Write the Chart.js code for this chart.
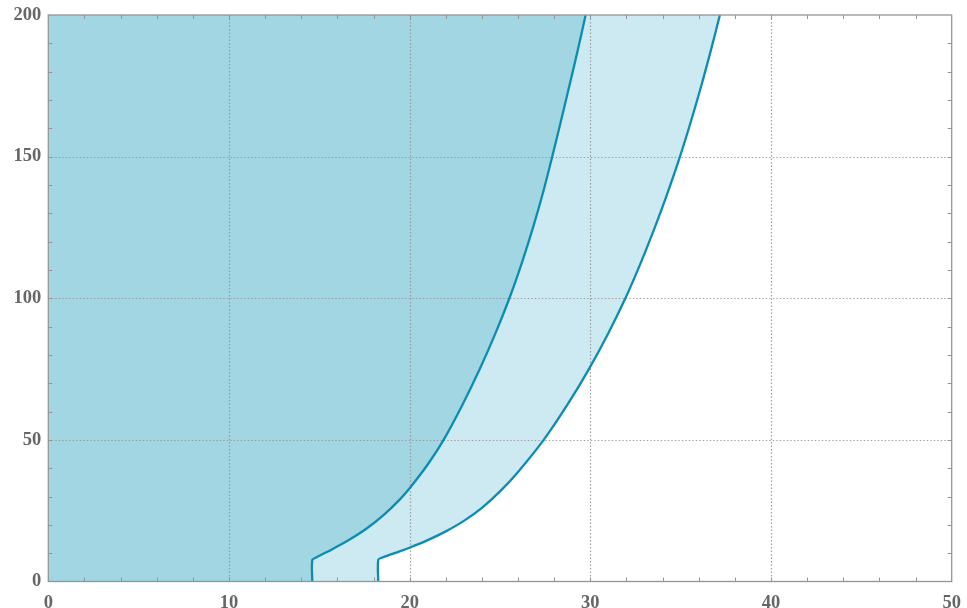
<!DOCTYPE html>
<html><head><meta charset="utf-8">
<script src="https://cdn.jsdelivr.net/npm/chart.js@4/dist/chart.umd.min.js"></script>
<style>html,body{margin:0;padding:0;background:#fff}#wrap{width:967px;height:608px;position:relative}</style>
</head><body><div id="wrap"><canvas id="c"></canvas></div>
<script>
// Inner curve (darker region to its left)
const innerX = [14.61, 14.61, 14.8, 15.77, 16.7, 17.62, 18.6, 19.46, 20.02, 21.0, 21.88, 22.93, 23.88, 24.74, 25.52, 26.21, 26.83, 27.39, 27.89, 28.37, 28.84, 29.3, 29.74];
const innerY = [0, 7.6, 8.4, 11.6, 14.9, 18.7, 23.7, 29.0, 33.1, 41.3, 50, 62.5, 75, 87.5, 100, 112.5, 125, 137.5, 150, 162.5, 175, 187.5, 200];
// Outer curve (lighter band between the curves)
const outerX = [18.26, 18.26, 18.45, 19.2, 20.02, 21.0, 22.0, 23.0, 24.0, 25.0, 26.0, 27.42, 28.74, 29.92, 30.98, 31.94, 32.79, 33.57, 34.29, 34.96, 35.57, 36.14, 36.67, 37.17];
const outerY = [0, 7.6, 8.4, 10.1, 12.0, 14.6, 17.7, 21.4, 26.0, 31.8, 38.7, 50, 62.5, 75, 87.5, 100, 112.5, 125, 137.5, 150, 162.5, 175, 187.5, 200];
const xTicks = [0, 10, 20, 30, 40, 50];
const yTicks = [0, 50, 100, 150, 200];
const xMinorStep = 2;
const yMinorStep = 10;

const LINE = '#0a8db1';
const DARK = '#a3d6e3';
const LIGHT = '#cde9f1';
const GREY = '#959595';

const curve = (xs, ys) => xs.map((v, i) => ({x: v, y: ys[i]}));
// region: same curve, closed along the x axis from the left edge
const region = (xs, ys) => [{x: xTicks[0], y: yTicks[0]}].concat(curve(xs, ys));

const framePlugin = {
  id: 'frame',
  beforeDatasetsDraw(chart) {
    const {ctx, chartArea: a, scales: {x, y}} = chart;
    ctx.save();
    ctx.strokeStyle = 'rgba(150,150,150,0.9)';
    ctx.lineWidth = 1.2;
    ctx.setLineDash([1.4, 2.1]);
    xTicks.forEach(v => {
      if (v === x.min || v === x.max) return;
      const px = Math.round(x.getPixelForValue(v)) + 0.5;
      ctx.beginPath(); ctx.moveTo(px, a.top); ctx.lineTo(px, a.bottom); ctx.stroke();
    });
    yTicks.forEach(v => {
      if (v === y.min || v === y.max) return;
      const py = Math.round(y.getPixelForValue(v)) + 0.5;
      ctx.beginPath(); ctx.moveTo(a.left, py); ctx.lineTo(a.right, py); ctx.stroke();
    });
    ctx.restore();
  },
  afterDatasetsDraw(chart) {
    const {ctx, chartArea: a, scales: {x, y}} = chart;
    ctx.save();
    ctx.strokeStyle = GREY;
    ctx.lineWidth = 1.3;
    ctx.strokeRect(a.left, a.top, a.right - a.left, a.bottom - a.top);
    ctx.lineWidth = 1;
    const L = 4;
    for (let v = x.min + xMinorStep; v < x.max; v += xMinorStep) {
      const px = Math.round(x.getPixelForValue(v)) + 0.5;
      ctx.beginPath();
      ctx.moveTo(px, a.top); ctx.lineTo(px, a.top + L);
      ctx.moveTo(px, a.bottom); ctx.lineTo(px, a.bottom - L);
      ctx.stroke();
    }
    for (let v = y.min + yMinorStep; v < y.max; v += yMinorStep) {
      const py = Math.round(y.getPixelForValue(v)) + 0.5;
      ctx.beginPath();
      ctx.moveTo(a.left, py); ctx.lineTo(a.left + L, py);
      ctx.moveTo(a.right, py); ctx.lineTo(a.right - L, py);
      ctx.stroke();
    }
    ctx.restore();
  }
};

const tickFont = {family: '"Liberation Serif", "DejaVu Serif", serif', size: 18.5, weight: 'bold'};

new Chart(document.getElementById('c'), {
  type: 'line',
  data: {
    datasets: [
      {data: curve(innerX, innerY), borderColor: LINE, borderWidth: 2.3, fill: false, pointRadius: 0, tension: 0.35},
      {data: region(innerX, innerY), borderWidth: 0, borderColor: 'rgba(0,0,0,0)', backgroundColor: DARK, fill: 'end', pointRadius: 0, tension: 0},
      {data: curve(outerX, outerY), borderColor: LINE, borderWidth: 2.3, fill: false, pointRadius: 0, tension: 0.35},
      {data: region(outerX, outerY), borderWidth: 0, borderColor: 'rgba(0,0,0,0)', backgroundColor: LIGHT, fill: 'end', pointRadius: 0, tension: 0}
    ]
  },
  options: {
    responsive: true, maintainAspectRatio: false, animation: false,
    layout: {padding: {top: 15, right: 15.3, left: 0, bottom: 0}},
    plugins: {legend: {display: false}, tooltip: {enabled: false}, filler: {drawTime: 'beforeDatasetsDraw'}},
    scales: {
      x: {
        type: 'linear', min: 0, max: 50,
        afterBuildTicks: s => { s.ticks = xTicks.map(v => ({value: v})); },
        afterFit: s => { s.height = 26.5; s.paddingLeft = 0; s.paddingRight = 0; },
        grid: {display: false, drawTicks: false},
        border: {display: false},
        ticks: {font: tickFont, color: '#666', padding: 11, maxRotation: 0, autoSkip: false}
      },
      y: {
        type: 'linear', min: 0, max: 200,
        afterBuildTicks: s => { s.ticks = yTicks.map(v => ({value: v})); },
        afterFit: s => { s.width = 48.3; s.paddingTop = 0; s.paddingBottom = 0; },
        grid: {display: false, drawTicks: false},
        border: {display: false},
        ticks: {font: tickFont, color: '#666', padding: 7, autoSkip: false}
      }
    }
  },
  plugins: [framePlugin]
});
</script>
</body></html>
